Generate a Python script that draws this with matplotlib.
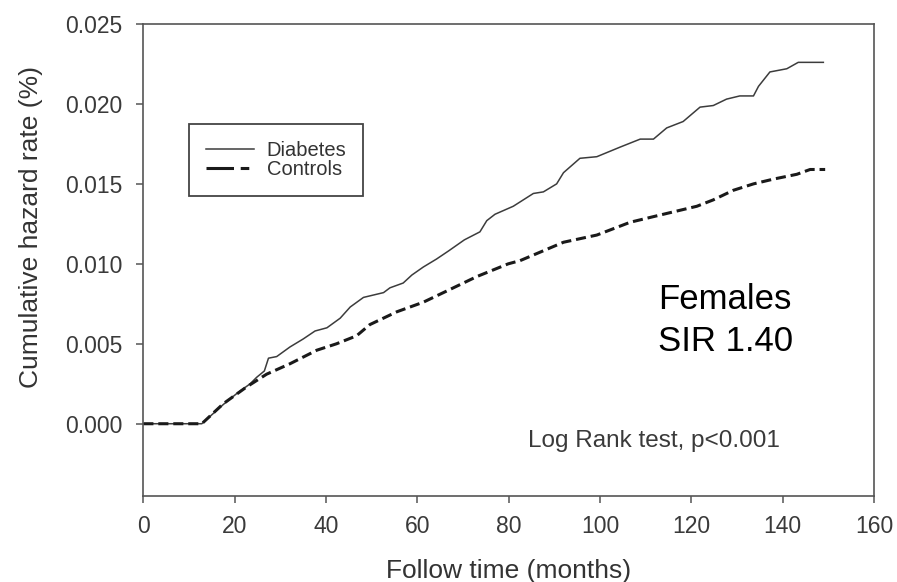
import matplotlib
matplotlib.use("Agg")
import matplotlib.pyplot as plt
from matplotlib.lines import Line2D

plt.rcParams['font.family'] = ['Liberation Sans', 'DejaVu Sans']

# values (months, cumulative hazard %)
diab_t = [0, 12.8, 17.5, 20.5, 23.4, 24.8, 26.5, 27.4, 29.2, 32.1, 35.0, 37.6, 40.2,
          43.1, 45.3, 48.2, 52.6, 54.0, 56.9, 58.8, 61.3, 64.2, 66.8, 70.3, 73.7,
          75.2, 77.0, 81.0, 85.4, 87.6, 90.5, 92.0, 95.6, 99.3, 104.4, 108.8,
          111.7, 114.6, 118.2, 121.9, 124.8, 127.7, 130.6, 133.6, 134.7, 137.2,
          140.9, 143.4, 148.9]
diab_v = [0, 0, 0.0012, 0.0019, 0.0025, 0.0029, 0.0033, 0.0041, 0.0042, 0.0048,
          0.0053, 0.0058, 0.0060, 0.0066, 0.0073, 0.0079, 0.0082, 0.0085, 0.0088,
          0.0093, 0.0098, 0.0103, 0.0108, 0.0115, 0.0120, 0.0127, 0.0131, 0.0136,
          0.0144, 0.0145, 0.0150, 0.0157, 0.0166, 0.0167, 0.0173, 0.0178, 0.0178,
          0.0185, 0.0189, 0.0198, 0.0199, 0.0203, 0.0205, 0.0205, 0.0211, 0.0220,
          0.0222, 0.0226, 0.0226]

ctrl_t = [0, 12.8, 17.5, 22.6, 27.0, 32.1, 38.0, 42.3, 46.7, 49.6, 55.5, 61.3, 65.7,
          73.0, 79.9, 82.5, 92.0, 99.3, 106.6, 112.4, 121.2, 124.8, 129.2, 133.6,
          138.0, 143.1, 146.0, 149.3]
ctrl_v = [0, 0, 0.00125, 0.0023, 0.0031, 0.00375, 0.0046, 0.0050, 0.0055, 0.0062,
          0.0070, 0.0076, 0.0082, 0.0092, 0.0100, 0.0102, 0.01135, 0.0118, 0.0126,
          0.0130, 0.0136, 0.0140, 0.0146, 0.0150, 0.0153, 0.0156, 0.0159, 0.0159]

xticks = [0, 20, 40, 60, 80, 100, 120, 140, 160]
yticks = [0.000, 0.005, 0.010, 0.015, 0.020, 0.025]

fig = plt.figure(figsize=(8.97, 5.82), dpi=100)
ax = fig.add_axes([0.1598, 0.1483, 0.8146, 0.8105])

ax.plot(diab_t, diab_v, color='#3c3c3c', lw=1.1)
ax.plot(ctrl_t, ctrl_v, color='#1a1a1a', lw=2.2, linestyle=(0, (3.3, 1.6)))

ax.set_xlim(0, 160)
ax.set_ylim(-0.0045, 0.025)
ax.set_xticks(xticks)
ax.set_yticks(yticks)
ax.set_yticklabels([f"{v:.3f}" for v in yticks])

for s in ax.spines.values():
    s.set_color('#555555')
    s.set_linewidth(1.2)
ax.tick_params(direction='out', length=5, width=1.1, color='#555555',
               labelsize=16.5, labelcolor='#3a3a3a')
ax.tick_params(axis='y', pad=10)
ax.tick_params(axis='x', pad=9)

ax.set_xlabel('Follow time (months)', fontsize=19, color='#333333', labelpad=15)
fig.text(0.035, 0.61, 'Cumulative hazard rate (%)', rotation=90, ha='center',
         va='center', fontsize=19, color='#333333')

handles = [Line2D([], [], color='#3c3c3c', lw=1.1),
           Line2D([], [], color='#1a1a1a', lw=2.2, linestyle=(0, (9, 2.2, 2.8, 10)))]
leg = ax.legend(handles, ['Diabetes', 'Controls'], loc='upper left',
                bbox_to_anchor=(0.0625, 0.788), borderaxespad=0, fontsize=14.5,
                handlelength=2.4, handletextpad=0.6, labelspacing=0.0, borderpad=0.85,
                fancybox=False, framealpha=1, edgecolor='#444444', labelcolor='#333333')
leg.get_frame().set_linewidth(1.3)

ax.text(112.8, 0.0088, 'Females\nSIR 1.40', fontsize=25, color='black',
        ha='left', va='top', linespacing=1.33)
ax.text(84.2, -0.0011, 'Log Rank test, p<0.001', fontsize=17.5, color='#3a3a3a',
        ha='left', va='center')

fig.savefig('out.png', dpi=100)
